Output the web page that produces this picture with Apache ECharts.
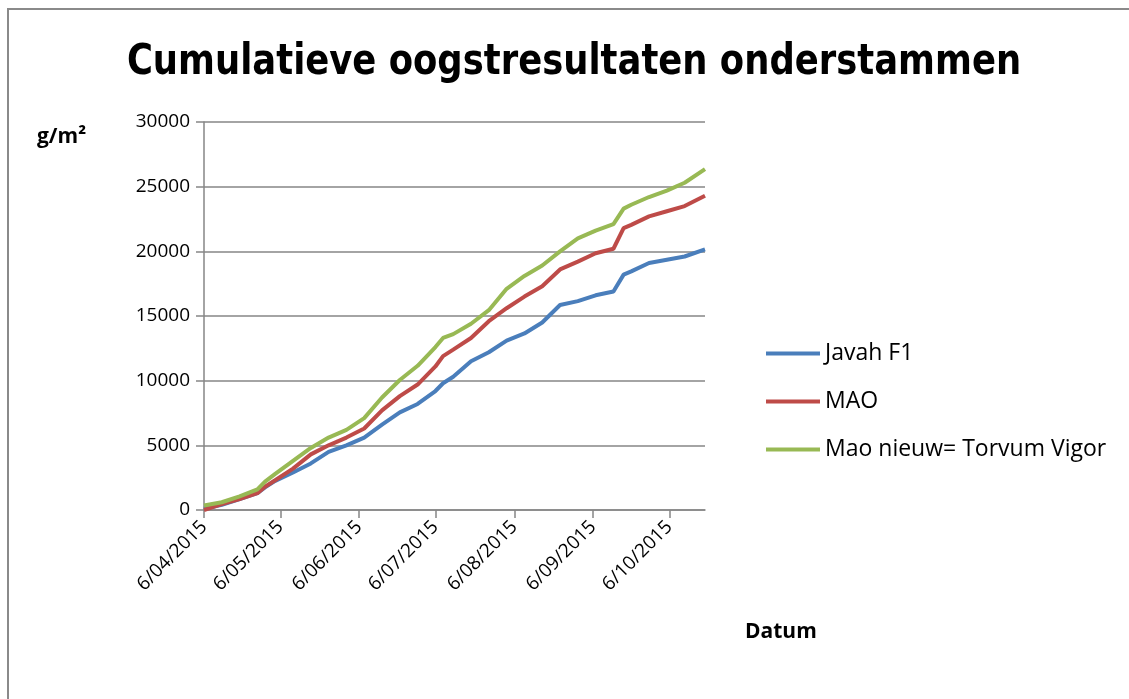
<!DOCTYPE html>
<html>
<head>
<meta charset="utf-8">
<title>Cumulatieve oogstresultaten onderstammen</title>
<script src="https://cdn.jsdelivr.net/npm/echarts@6/dist/echarts.min.js"></script>
<style>
  html, body { margin: 0; padding: 0; background: #fff; }
  #chart { width: 1129px; height: 699px; }
</style>
</head>
<body>
<div id="chart"></div>
<script>
// oogstdata (cumulatief, g/m²)
var dates = ['2015-04-06', '2015-04-13', '2015-04-20', '2015-04-27', '2015-04-30', '2015-05-04',
  '2015-05-11', '2015-05-18', '2015-05-25', '2015-06-01', '2015-06-08', '2015-06-15',
  '2015-06-22', '2015-06-29', '2015-07-06', '2015-07-09', '2015-07-13', '2015-07-20',
  '2015-07-27', '2015-08-03', '2015-08-10', '2015-08-17', '2015-08-24', '2015-08-31',
  '2015-09-07', '2015-09-14', '2015-09-18', '2015-09-21', '2015-09-28', '2015-10-05',
  '2015-10-12', '2015-10-20'];
var javah = [100, 400, 850, 1300, 1750, 2250, 2900, 3600, 4500, 5000, 5600, 6600,
  7550, 8200, 9200, 9800, 10300, 11500, 12200, 13100, 13650, 14500, 15850, 16150,
  16600, 16900, 18200, 18450, 19100, 19350, 19600, 20150];
var mao = [0, 450, 850, 1300, 1800, 2300, 3200, 4300, 5000, 5600, 6300, 7700,
  8800, 9700, 11100, 11900, 12400, 13300, 14600, 15600, 16500, 17300, 18600, 19200,
  19850, 20200, 21800, 22050, 22700, 23100, 23500, 24300];
var maoNieuw = [350, 600, 1050, 1600, 2200, 2800, 3800, 4800, 5600, 6200, 7100, 8700,
  10050, 11150, 12600, 13300, 13600, 14400, 15450, 17100, 18100, 18900, 20000, 21000,
  21600, 22100, 23300, 23600, 24200, 24700, 25300, 26350];
var tickDates = ['2015-04-06', '2015-05-06', '2015-06-06', '2015-07-06', '2015-08-06',
  '2015-09-06', '2015-10-06'];
var seriesNames = ['Javah F1', 'MAO', 'Mao nieuw= Torvum Vigor'];

function toTime(s) {
  var p = s.split('-');
  return new Date(+p[0], +p[1] - 1, +p[2]).getTime();
}
function pairs(vals) {
  return dates.map(function (d, i) { return [toTime(d), vals[i]]; });
}
function pad(n) { return n < 10 ? '0' + n : '' + n; }

var chart = echarts.init(document.getElementById('chart'));
var font = 'Open Sans';
var ticks = tickDates.map(toTime);

var option = {
  animation: false,
  color: ['#4A7EBB', '#BE4B48', '#98B954'],
  grid: { left: 204, right: 424, top: 122, bottom: 189, containLabel: false },
  graphic: [
    { type: 'rect', shape: { x: 8, y: 9, width: 1140, height: 710 },
      style: { fill: 'none', stroke: '#8a8a8a', lineWidth: 2 } },
    // titel smaller geschaald, lijkt meer op Calibri
    { type: 'text', x: 574, y: 63, scaleX: 0.843,
      style: { text: 'Cumulatieve oogstresultaten onderstammen', fill: '#000',
        font: 'bold 42px "DejaVu Sans", sans-serif',
        textAlign: 'center', textVerticalAlign: 'middle' } },
    { type: 'text', x: 37, y: 137,
      style: { text: 'g/m²', fill: '#000', font: 'bold 21px "' + font + '"',
        textVerticalAlign: 'middle' } },
    { type: 'text', x: 745, y: 632,
      style: { text: 'Datum', fill: '#000', font: 'bold 21px "' + font + '"',
        textVerticalAlign: 'middle' } }
  ],
  legend: {
    orient: 'vertical',
    left: 761,
    top: 337,
    icon: 'rect',
    itemWidth: 54,
    itemHeight: 4,
    itemGap: 25,
    data: seriesNames,
    textStyle: { fontFamily: font, fontSize: 23, color: '#000', lineHeight: 23 }
  },
  xAxis: {
    type: 'value',
    min: toTime(dates[0]),
    max: toTime(dates[dates.length - 1]),
    axisLine: { lineStyle: { color: '#868686', width: 1.5 } },
    axisTick: { show: true, customValues: ticks, length: 8,
      lineStyle: { color: '#868686', width: 1.5 } },
    axisLabel: {
      customValues: ticks,
      rotate: 45,
      margin: 14,
      fontFamily: font,
      fontSize: 19,
      color: '#000',
      formatter: function (v) {
        var d = new Date(v);
        return d.getDate() + '/' + pad(d.getMonth() + 1) + '/' + d.getFullYear();
      }
    },
    splitLine: { show: false }
  },
  yAxis: {
    type: 'value',
    min: 0,
    max: 30000,
    interval: 5000,
    axisLine: { show: true, lineStyle: { color: '#868686', width: 1.5 } },
    axisTick: { show: true, length: 8, lineStyle: { color: '#868686', width: 1.5 } },
    axisLabel: { fontFamily: font, fontSize: 19, color: '#000', margin: 14,
      formatter: function (v) { return String(v); } },
    splitLine: { lineStyle: { color: '#868686', width: 1.5 } }
  },
  series: [
    { name: seriesNames[0], type: 'line', data: pairs(javah), showSymbol: false,
      lineStyle: { width: 4 } },
    { name: seriesNames[1], type: 'line', data: pairs(mao), showSymbol: false,
      lineStyle: { width: 4 } },
    { name: seriesNames[2], type: 'line', data: pairs(maoNieuw), showSymbol: false,
      lineStyle: { width: 4 } }
  ]
};

chart.setOption(option);
</script>
</body>
</html>
